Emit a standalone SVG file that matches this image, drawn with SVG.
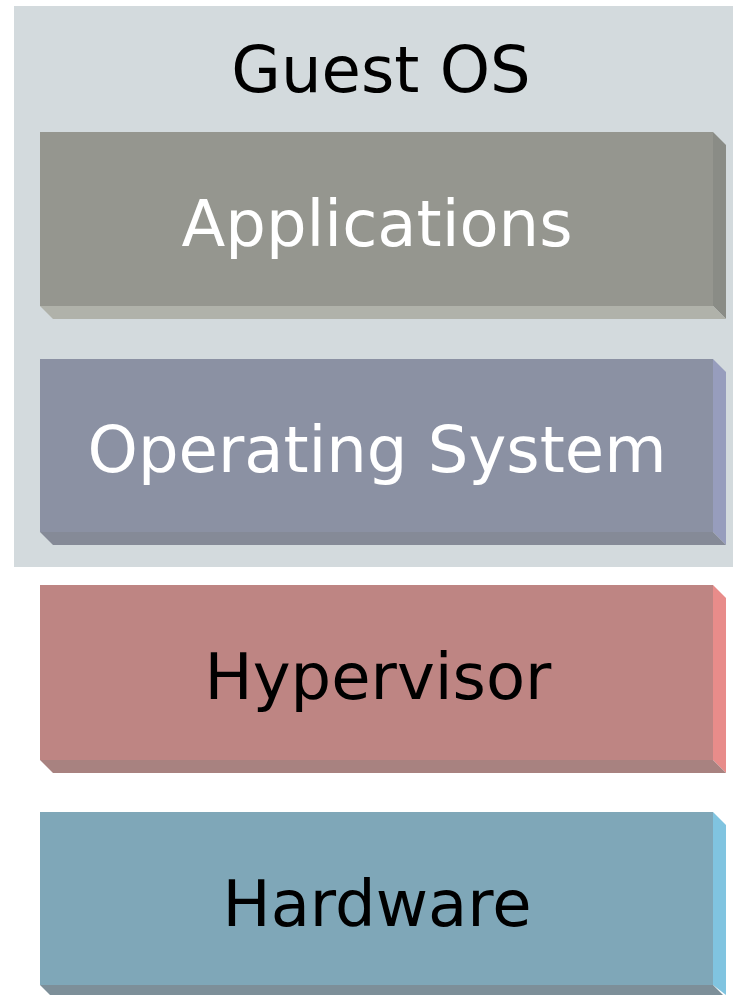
<svg xmlns="http://www.w3.org/2000/svg" width="733" height="995" viewBox="0 0 733 995">
<style>
text{font-family:"DejaVu Sans","Verdana",sans-serif;font-size:64px;text-anchor:middle}
.w{fill:#ffffff}
.k{fill:#000000}
</style>
<rect width="733" height="995" fill="#ffffff"/>
<g id="guest-os">
<rect x="14" y="6" width="719" height="561" fill="#d3dadd"/>
<text x="381" y="92" class="k">Guest OS</text>
</g>
<g id="applications">
<rect x="40" y="132" width="673" height="174" fill="#95968f"/>
<polygon points="713,132 726,145 726,319 713,306" fill="#8a8c86"/>
<polygon points="40,306 713,306 726,319 53,319" fill="#b0b2aa"/>
<text x="377" y="246" class="w">Applications</text>
</g>
<g id="operating-system">
<rect x="40" y="359" width="673" height="173" fill="#8b91a3"/>
<polygon points="713,359 726,372 726,545 713,532" fill="#979dbd"/>
<polygon points="40,532 713,532 726,545 53,545" fill="#858a97"/>
<text x="377" y="472" class="w">Operating System</text>
</g>
<g id="hypervisor">
<rect x="40" y="585" width="673" height="175" fill="#be8583"/>
<polygon points="713,585 726,598 726,773 713,760" fill="#e88c8a"/>
<polygon points="40,760 713,760 726,773 53,773" fill="#a88280"/>
<text x="378" y="699" class="k">Hypervisor</text>
</g>
<g id="hardware">
<rect x="40" y="812" width="673" height="173" fill="#7fa7b8"/>
<polygon points="713,812 726,825 726,995 713,985" fill="#80c4e0"/>
<polygon points="40,985 713,985 726,998 53,998" fill="#7d8f99"/>
<text x="377" y="926" class="k">Hardware</text>
</g>
<g id="connectors"/>
</svg>
